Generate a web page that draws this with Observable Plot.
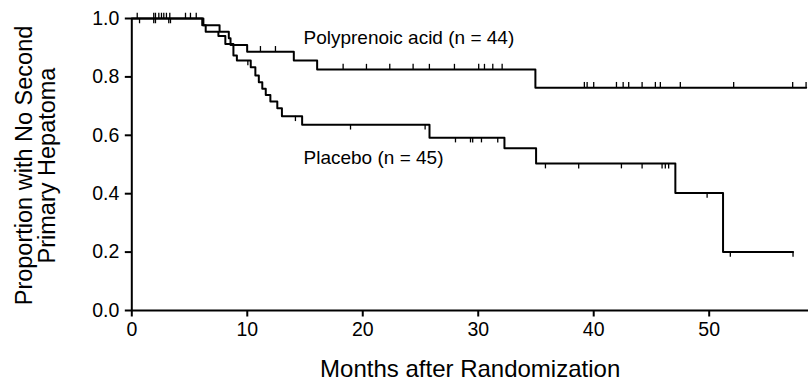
<!DOCTYPE html>
<html><head><meta charset="utf-8">
<script src="https://cdn.jsdelivr.net/npm/d3@7"></script>
<script src="https://cdn.jsdelivr.net/npm/@observablehq/plot@0.6"></script>
<style>
body{margin:0;background:#fff}
#chart svg{display:block}
</style>
</head><body><div id="chart"></div>
<script>
// Kaplan–Meier step data (months, proportion)
const polyTimes = [0, 6.1, 7.6, 8.4, 8.55, 9.99, 14.03, 16.05, 34.95, 58.4];
const polySurv  = [1.0, 0.977, 0.955, 0.932, 0.909, 0.886, 0.856, 0.825, 0.763, 0.763];
const placTimes = [0, 6.2, 6.4, 7.5, 8.1, 8.8, 9.1, 10.3, 10.7, 11.0, 11.3, 11.6, 12.0, 12.6, 13.0, 14.75, 25.78, 32.27, 35.01, 47.07, 51.2, 57.26];
const placSurv  = [1.0, 0.977, 0.955, 0.94, 0.913, 0.873, 0.856, 0.833, 0.805, 0.782, 0.759, 0.738, 0.716, 0.693, 0.665, 0.636, 0.592, 0.556, 0.503, 0.402, 0.200, 0.200];
// censoring times
const polyCensor = [0.47, 1.9, 2.05, 2.34, 2.57, 2.77, 3.0, 3.29, 4.65, 5.08, 5.58,
  11.14, 12.44, 18.3, 20.32, 22.34, 24.36, 25.77, 27.94, 30.04, 30.54, 31.26, 32.07,
  39.19, 39.43, 40.0, 41.97, 42.55, 43.03, 44.19, 45.34, 45.77, 47.5, 52.12, 57.23, 58.39];
const placCensor = [0.67, 1.9, 2.05, 3.2, 3.35, 10.05, 14.17, 18.94, 25.4,
  28.03, 29.33, 29.52, 30.28, 31.69, 35.82, 38.7, 42.4, 44.19, 45.92, 46.2, 46.49,
  49.82, 51.83, 57.26];
// labels
const seriesNames = ["Polyprenoic acid (n = 44)", "Placebo (n = 45)"];
const labelX = [14.87, 14.87];
const labelY = [0.932, 0.524];
const xTicks = [0, 10, 20, 30, 40, 50];
const yTicks = [0, 0.2, 0.4, 0.6, 0.8, 1.0];
const xTitle = "Months after Randomization";
const yTitle = "Proportion with No Second\nPrimary Hepatoma";

const toPts = (t, s) => t.map((d, i) => ({t: d, s: s[i]}));
const polyPts = toPts(polyTimes, polySurv);
const placPts = toPts(placTimes, placSurv);
const levelAt = (t, s, x) => { let v = s[0]; for (let i = 0; i < t.length; i++) if (t[i] <= x) v = s[i]; return v; };
const tickLen = 0.018;
const labels = seriesNames.map((n, i) => ({n, x: labelX[i], y: labelY[i]}));

const font = "'Liberation Sans', Arial, Helvetica, sans-serif";
const chart = Plot.plot({
  width: 812, height: 386,
  marginLeft: 131.3, marginRight: 4, marginTop: 18, marginBottom: 76,
  style: {fontFamily: font, fontSize: "19px", color: "#000", background: "#fff"},
  x: {domain: [0, 58.6]},
  y: {domain: [0, 1]},
  marks: [
    Plot.axisX({ticks: xTicks, tickSize: 6.5, tickPadding: 5, strokeWidth: 2, fontSize: 19.5, label: null}),
    Plot.axisY({ticks: yTicks, tickFormat: d3.format(".1f"), tickSize: 6.5, tickPadding: 6, strokeWidth: 2, fontSize: 19.5, label: null}),
    Plot.ruleY([0], {strokeWidth: 2}),
    Plot.ruleX([0], {strokeWidth: 2}),
    Plot.line(polyPts, {x: "t", y: "s", curve: "step-after", stroke: "#000", strokeWidth: 2}),
    Plot.line(placPts, {x: "t", y: "s", curve: "step-after", stroke: "#000", strokeWidth: 2}),
    Plot.ruleX(polyCensor, {x: d => d, y1: d => levelAt(polyTimes, polySurv, d), y2: d => levelAt(polyTimes, polySurv, d) + tickLen, stroke: "#000", strokeWidth: 1.3}),
    Plot.ruleX(placCensor, {x: d => d, y1: d => levelAt(placTimes, placSurv, d), y2: d => levelAt(placTimes, placSurv, d) - tickLen, stroke: "#000", strokeWidth: 1.3}),
    Plot.text(labels, {x: "x", y: "y", text: "n", textAnchor: "start", fontSize: 19, fill: "#000"}),
    Plot.text([xTitle], {frameAnchor: "bottom", dy: 66, text: d => d, fontSize: 24, fill: "#000"}),
    Plot.text([yTitle], {frameAnchor: "left", dx: -96, dy: 1, rotate: -90, textAnchor: "middle", text: d => d, fontSize: 23.5, lineHeight: 1.0, fill: "#000"})
  ]
});
document.getElementById("chart").appendChild(chart);
</script>
</body></html>
